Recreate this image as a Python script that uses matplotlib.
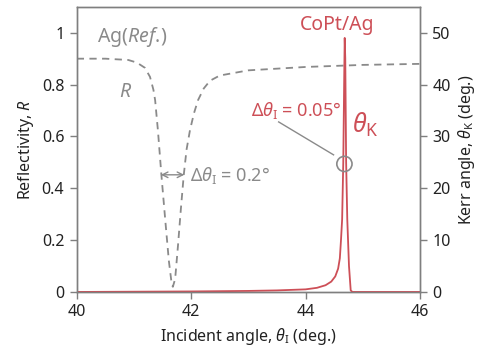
import matplotlib

matplotlib.use("Agg")
import matplotlib.pyplot as plt

# Ag (reference) reflectivity, dashed grey
ag_angle = [40.0, 40.5, 40.9, 41.05, 41.19, 41.28, 41.34, 41.37, 41.42, 41.48, 41.55, 41.61,
            41.66, 41.68, 41.72, 41.77, 41.82, 41.87, 41.92, 41.98, 42.05, 42.12, 42.22,
            42.33, 42.5, 43.0, 44.0, 45.0, 46.0]
ag_refl = [0.90, 0.90, 0.895, 0.885, 0.865, 0.83, 0.78, 0.74, 0.62, 0.45, 0.27, 0.12,
           0.03, 0.02, 0.05, 0.18, 0.32, 0.45, 0.55, 0.625, 0.69, 0.74, 0.785,
           0.815, 0.835, 0.855, 0.868, 0.876, 0.88]

# CoPt/Ag Kerr angle (deg), red
kerr_angle = [40.0, 41.0, 42.0, 43.0, 43.5, 44.0, 44.2, 44.35, 44.45, 44.52, 44.57, 44.6,
              44.62, 44.64, 44.66, 44.675, 44.685, 44.695, 44.71, 44.73, 44.76, 44.79,
              44.82, 45.0, 46.0]
kerr_value = [0.0, 0.05, 0.1, 0.2, 0.3, 0.5, 0.8, 1.3, 2.0, 3.0, 4.5, 6.5,
              10.0, 14.0, 25.0, 40.0, 49.0, 45.0, 25.0, 14.0, 5.0, 0.3,
              0.0, 0.0, 0.0]

x_ticks = [40, 42, 44, 46]
left_ticks = [0, 0.2, 0.4, 0.6, 0.8, 1]
left_labels = ["0", "0.2", "0.4", "0.6", "0.8", "1"]
right_ticks = [0, 10, 20, 30, 40, 50]

RED = "#cd4f57"
GREY = "#8a8a8a"
SPINE = "#7f7f7f"

plt.rcParams["font.family"] = ["Noto Sans", "DejaVu Sans"]
plt.rcParams["mathtext.fontset"] = "custom"
plt.rcParams["mathtext.rm"] = "Noto Sans"
plt.rcParams["mathtext.it"] = "Noto Sans:italic"

fig = plt.figure(figsize=(4.86, 3.6), dpi=100)
ax = fig.add_axes([0.158, 0.189, 0.706, 0.792])
ax2 = ax.twinx()

ax.plot(ag_angle, ag_refl, color=GREY, lw=1.3, ls=(0, (4, 3)))
ax2.plot(kerr_angle, kerr_value, color=RED, lw=1.3)

ax.set_xlim(40, 46)
ax.set_ylim(0, 1.1)
ax2.set_ylim(0, 55)
ax.set_xticks(x_ticks)
ax.set_yticks(left_ticks)
ax.set_yticklabels(left_labels)
ax2.set_yticks(right_ticks)

for a in (ax, ax2):
    for sp in a.spines.values():
        sp.set_color(SPINE)
        sp.set_linewidth(1.0)
    a.tick_params(direction="out", length=5, width=1, color=SPINE, labelsize=11.5,
                  labelcolor="#222222", pad=4)

ax.set_xlabel(r"Incident angle, $\theta_{\rm I}$ (deg.)", fontsize=11.5, color="#222222")
ax.set_ylabel(r"Reflectivity, $R$", fontsize=11.5, color="#222222")
ax2.set_ylabel(r"Kerr angle, $\theta_{\rm K}$ (deg.)", fontsize=11.5, color="#222222")

# annotations
ax.text(40.35, 0.985, r"Ag($\mathit{Ref.}\!$)", color=GREY, fontsize=14, va="center", ha="left")
ax.text(40.85, 0.77, r"$R$", color=GREY, fontsize=14, va="center", ha="center")
ax.annotate("", xy=(41.47, 0.452), xytext=(41.88, 0.452),
            arrowprops=dict(arrowstyle="<->", color=GREY, lw=1.0, shrinkA=0, shrinkB=0))
ax.text(41.98, 0.45, r"$\Delta\theta_{\rm I}$ = 0.2°", color=GREY, fontsize=13,
        va="center", ha="left")
ax.text(44.62, 0.70, r"$\Delta\theta_{\rm I}$ = 0.05°", color=RED, fontsize=13,
        va="center", ha="right")
ax.text(44.82, 0.645, r"$\theta_{\rm K}$", color=RED, fontsize=18, va="center", ha="left")
ax.text(44.56, 1.03, "CoPt/Ag", color=RED, fontsize=14, va="center", ha="center")
ax.plot([43.53, 44.49], [0.656, 0.529], color=GREY, lw=1.0)
ax2.scatter([44.68], [24.7], s=120, facecolor="none", edgecolor=GREY, lw=1.2, zorder=5)

fig.savefig("out.png", dpi=100)
